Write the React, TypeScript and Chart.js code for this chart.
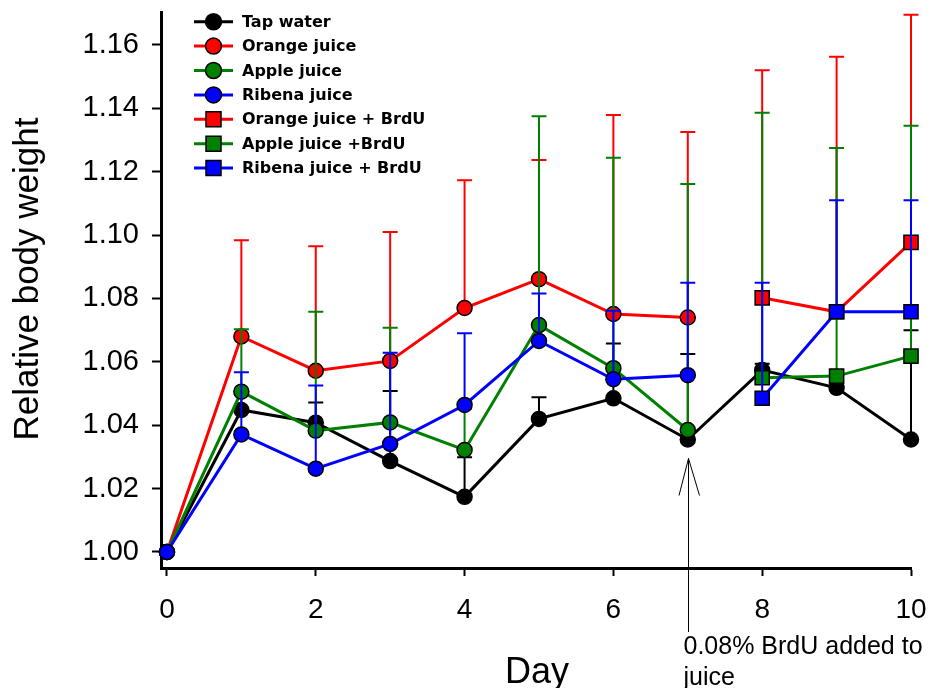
import React, { useEffect, useRef } from 'react';
import { Chart, registerables } from 'chart.js';

Chart.register(...registerables);

// ---- data ----
const daysAll = [0, 1, 2, 3, 4, 5, 6, 7, 8, 9, 10];
const daysJuice = [0, 1, 2, 3, 4, 5, 6, 7];
const daysBrdU = [8, 9, 10];

const tapWater = [1.0, 1.0448, 1.0408, 1.0287, 1.0174, 1.042, 1.0485, 1.0355, 1.0574, 1.0518, 1.0355];
const tapWaterErr = [0, 0.006, 0.0064, 0.0221, 0.0125, 0.0068, 0.0173, 0.027, 0.002, 0.002, 0.0345];

const orangeJuice = [1.0, 1.068, 1.0572, 1.0603, 1.077, 1.0861, 1.0751, 1.074];
const orangeJuiceErr = [0, 0.0304, 0.0393, 0.0407, 0.0403, 0.0376, 0.0628, 0.0585];

const appleJuice = [1.0, 1.0506, 1.0383, 1.0409, 1.0322, 1.0716, 1.058, 1.0385];
const appleJuiceErr = [0, 0.0197, 0.0375, 0.0299, 0.013, 0.0659, 0.0664, 0.0776];

const ribenaJuice = [1.0, 1.0371, 1.0263, 1.0341, 1.0464, 1.0666, 1.0545, 1.0558];
const ribenaJuiceErr = [0, 0.0196, 0.0262, 0.0288, 0.0226, 0.015, 0.0216, 0.0292];

const orangeBrdU = [1.0802, 1.0758, 1.0977];
const orangeBrdUErr = [0.0718, 0.0805, 0.0718];

const appleBrdU = [1.055, 1.0555, 1.0618];
const appleBrdUErr = [0.0836, 0.072, 0.0727];

const ribenaBrdU = [1.0485, 1.0758, 1.0758];
const ribenaBrdUErr = [0.0365, 0.0352, 0.0352];

const xTicks = [0, 2, 4, 6, 8, 10];
const yTicks = [1.0, 1.02, 1.04, 1.06, 1.08, 1.1, 1.12, 1.14, 1.16];

const xTitle = 'Day';
const yTitle = 'Relative body weight';
const annotationDay = 7;
const annotationTipValue = 1.0295;
const annotationLines = ['0.08% BrdU added to', 'juice'];

const RED = '#ff0000';
const GREEN = '#008000';
const BLUE = '#0000ff';
const BLACK = '#000000';

function pts(xs: number[], ys: number[]) {
  return xs.map((x, i) => ({ x, y: ys[i] }));
}

function makeSet(label: string, xs: number[], ys: number[], errs: number[], color: string, shape: string, idx: number) {
  return {
    label,
    data: pts(xs, ys),
    errors: errs,
    borderColor: color,
    backgroundColor: color,
    borderWidth: 3,
    pointStyle: shape,
    pointRadius: shape === 'rect' ? 10 : 7.5,
    pointBackgroundColor: color,
    pointBorderColor: BLACK,
    pointBorderWidth: 1.5,
    pointHoverRadius: shape === 'rect' ? 10 : 7.5,
    clip: false,
    order: 10 - idx,
    tension: 0,
  };
}

const errorBarPlugin = {
  id: 'errorBars',
  beforeDatasetDraw(chart: any, args: any) {
    const ds = chart.data.datasets[args.index];
    const errs: number[] = ds.errors || [];
    const xs = chart.scales.x;
    const ys = chart.scales.y;
    const ctx = chart.ctx;
    ctx.save();
    ctx.strokeStyle = ds.borderColor;
    ctx.lineWidth = 2;
    ds.data.forEach((p: any, i: number) => {
      const e = errs[i];
      if (!e) return;
      const px = xs.getPixelForValue(p.x);
      const py = ys.getPixelForValue(p.y);
      const pt = ys.getPixelForValue(p.y + e);
      ctx.beginPath();
      ctx.moveTo(px, py);
      ctx.lineTo(px, pt);
      ctx.moveTo(px - 7.5, pt);
      ctx.lineTo(px + 7.5, pt);
      ctx.stroke();
    });
    ctx.restore();
  },
};

const decorPlugin = {
  id: 'decor',
  afterDraw(chart: any) {
    const ctx = chart.ctx;
    const xs = chart.scales.x;
    const ys = chart.scales.y;
    ctx.save();
    // axis titles
    ctx.fillStyle = BLACK;
    ctx.font = '35px "Liberation Sans", Arial, sans-serif';
    ctx.textAlign = 'center';
    ctx.textBaseline = 'alphabetic';
    ctx.save();
    ctx.translate(38, 279);
    ctx.rotate(-Math.PI / 2);
    ctx.fillText(yTitle, 0, 0);
    ctx.restore();
    ctx.font = '36px "Liberation Sans", Arial, sans-serif';
    ctx.fillText(xTitle, 537, 683);

    // annotation arrow
    const ax = Math.round(xs.getPixelForValue(annotationDay)) + 0.5;
    const tipY = ys.getPixelForValue(annotationTipValue);
    ctx.strokeStyle = BLACK;
    ctx.lineWidth = 1;
    ctx.beginPath();
    ctx.moveTo(ax, 632);
    ctx.lineTo(ax, tipY);
    ctx.moveTo(ax - 9.5, tipY + 37);
    ctx.lineTo(ax, tipY);
    ctx.lineTo(ax + 11, tipY + 37);
    ctx.stroke();
    ctx.font = '25px "Liberation Sans", Arial, sans-serif';
    ctx.textAlign = 'left';
    annotationLines.forEach((t, i) => ctx.fillText(t, ax - 5, 654 + i * 31));

    // legend
    ctx.font = 'bold 16px "DejaVu Sans", Verdana, sans-serif';
    ctx.textBaseline = 'middle';
    chart.data.datasets.forEach((ds: any, i: number) => {
      const y = 21.7 + i * 24.4;
      ctx.strokeStyle = ds.borderColor;
      ctx.lineWidth = 3;
      ctx.beginPath();
      ctx.moveTo(194, y);
      ctx.lineTo(233, y);
      ctx.stroke();
      ctx.fillStyle = ds.borderColor;
      ctx.strokeStyle = BLACK;
      ctx.lineWidth = 1.5;
      ctx.beginPath();
      if (ds.pointStyle === 'rect') {
        ctx.rect(213.5 - 7.5, y - 7.5, 15, 15);
      } else {
        ctx.arc(213.5, y, 8, 0, Math.PI * 2);
      }
      ctx.fill();
      ctx.stroke();
      ctx.fillStyle = BLACK;
      ctx.fillText(ds.label, 242, y + 1);
    });
    ctx.restore();
  },
};

export default function App() {
  const ref = useRef<HTMLCanvasElement | null>(null);
  useEffect(() => {
    if (!ref.current) return;
    const datasets = [
      makeSet('Tap water', daysAll, tapWater, tapWaterErr, BLACK, 'circle', 0),
      makeSet('Orange juice', daysJuice, orangeJuice, orangeJuiceErr, RED, 'circle', 1),
      makeSet('Apple juice', daysJuice, appleJuice, appleJuiceErr, GREEN, 'circle', 2),
      makeSet('Ribena juice', daysJuice, ribenaJuice, ribenaJuiceErr, BLUE, 'circle', 3),
      makeSet('Orange juice + BrdU', daysBrdU, orangeBrdU, orangeBrdUErr, RED, 'rect', 4),
      makeSet('Apple juice +BrdU', daysBrdU, appleBrdU, appleBrdUErr, GREEN, 'rect', 5),
      makeSet('Ribena juice + BrdU', daysBrdU, ribenaBrdU, ribenaBrdUErr, BLUE, 'rect', 6),
    ];
    const chart = new Chart(ref.current, {
      type: 'line',
      data: { datasets } as any,
      options: {
        responsive: false,
        animation: false,
        devicePixelRatio: 1,
        layout: { padding: { left: 0, top: 12, right: 20, bottom: 0 } },
        plugins: { legend: { display: false }, tooltip: { enabled: false } },
        scales: {
          x: {
            type: 'linear',
            min: -0.08,
            max: 10,
            afterFit: (s: any) => {
              s.height = 120;
              s.paddingLeft = 0;
              s.paddingRight = 0;
              s.paddingTop = 0;
              s.paddingBottom = 0;
            },
            afterBuildTicks: (s: any) => { s.ticks = xTicks.map((v) => ({ value: v })); },
            grid: { drawOnChartArea: false, drawTicks: true, tickLength: 8, tickWidth: 2, tickColor: BLACK },
            border: { display: true, width: 3, color: BLACK },
            ticks: {
              color: BLACK,
              padding: 17,
              font: { family: '"Liberation Sans", Arial, sans-serif', size: 28 },
              callback: (v: any) => String(v),
              maxRotation: 0,
            },
          },
          y: {
            type: 'linear',
            min: 0.99495,
            max: 1.1704,
            afterFit: (s: any) => {
              s.width = 161;
              s.paddingLeft = 0;
              s.paddingRight = 0;
              s.paddingTop = 0;
              s.paddingBottom = 0;
            },
            afterBuildTicks: (s: any) => { s.ticks = yTicks.map((v) => ({ value: v })); },
            grid: { drawOnChartArea: false, drawTicks: true, tickLength: 9, tickWidth: 2, tickColor: BLACK },
            border: { display: true, width: 3, color: BLACK },
            ticks: {
              color: BLACK,
              padding: 13,
              font: { family: '"Liberation Sans", Arial, sans-serif', size: 29 },
              callback: (v: any) => Number(v).toFixed(2),
            },
          },
        },
      } as any,
      plugins: [errorBarPlugin, decorPlugin],
    });
    return () => chart.destroy();
  }, []);
  return (
    <div style={{ position: 'fixed', left: 0, top: 0, width: 931, height: 688, background: '#ffffff' }}>
      <canvas ref={ref} width={931} height={688} style={{ width: 931, height: 688, display: 'block' }} />
    </div>
  );
}
